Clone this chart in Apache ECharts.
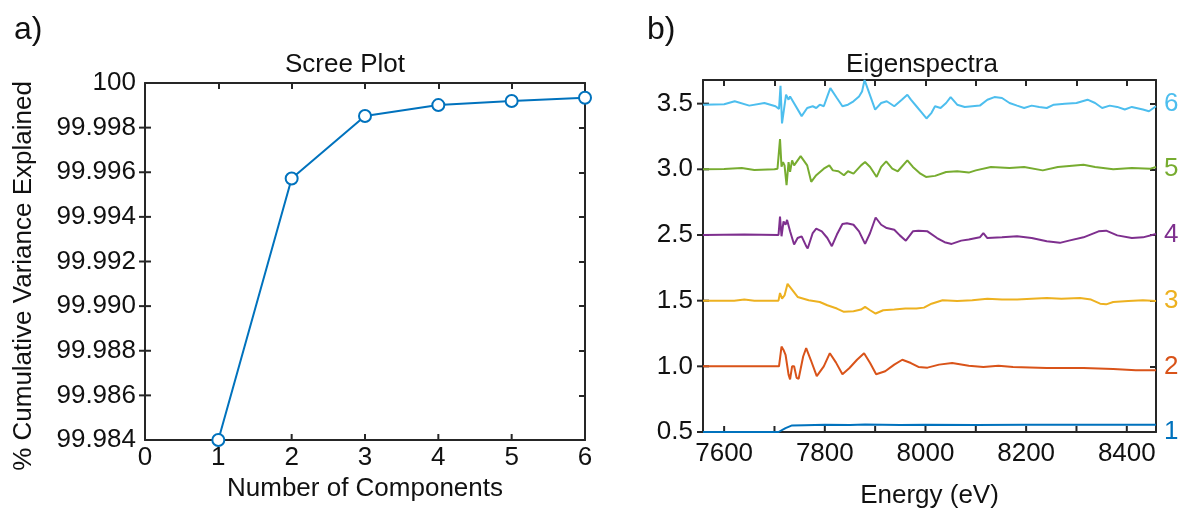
<!DOCTYPE html>
<html><head><meta charset="utf-8">
<script src="https://cdn.jsdelivr.net/npm/echarts@6/dist/echarts.min.js"></script>
<style>html,body{margin:0;padding:0;background:#fff}#c{width:1183px;height:514px}</style>
</head><body><div id="c"></div>
<script>
// ---- Scree plot data ----
const components = [1, 2, 3, 4, 5, 6];
const cumVariance = [99.984, 99.99572, 99.99852, 99.99901, 99.99919, 99.99934];
const screeXTicks = [1, 2, 3, 4, 5];
const screeYTicks = [99.986, 99.988, 99.99, 99.992, 99.994, 99.996, 99.998];

// ---- Eigenspectra axis labels ----
const eigenLeftLabels = ['0.5', '1.0', '1.5', '2.5', '3.0', '3.5'];
const eigenRightLabels = ['1', '2', '3', '4', '5', '6'];
const eigenColors = ['#0072BD', '#D95319', '#EDB120', '#7E2F8E', '#77AC30', '#4DBEEE'];
const eigenLevels = [0, 0.5, 1.0, 1.5, 2.0, 2.5];
const energyTicks = [7600, 7700, 7800, 7900, 8000, 8100, 8200, 8300, 8400];
const energyLabels = [7600, 7800, 8000, 8200, 8400];

// ---- Eigenspectra: [energy (eV), deviation from the component's baseline] ----
const spec1 = [[7558,0],[7708,0],[7722,0.03],[7735,0.05],[7760,0.052],[7800,0.055],[7850,0.053],[7880,0.057],[7950,0.053],[8000,0.055],[8100,0.054],[8200,0.055],[8300,0.055],[8458,0.055]];
const spec2 = [[7558,0],[7709,0],[7714,0.15],[7718,0.125],[7722,0.088],[7728,-0.063],[7731,-0.1],[7735,0],[7739,0],[7744,-0.088],[7748,-0.095],[7757,0.075],[7763,0.138],[7772,0.05],[7784,-0.075],[7798,0],[7810,0.1],[7822,0.03],[7835,-0.06],[7849,-0.013],[7864,0.05],[7878,0.1],[7890,0.025],[7902,-0.06],[7920,-0.038],[7938,0.013],[7954,0.05],[7971,0.025],[7986,-0.005],[8004,-0.01],[8027,0.013],[8053,0.025],[8086,0.005],[8115,-0.005],[8145,0.005],[8174,-0.005],[8241,-0.013],[8314,-0.013],[8373,-0.02],[8418,-0.03],[8458,-0.03]];
const spec3 = [[7558,0],[7620,0],[7640,0.008],[7660,0],[7708,0],[7711,0.058],[7715,0.015],[7720,0.04],[7726,0.128],[7731,0.103],[7746,0.028],[7768,0.003],[7790,-0.01],[7805,-0.035],[7824,-0.06],[7838,-0.085],[7857,-0.08],[7872,-0.068],[7880,-0.048],[7890,-0.073],[7901,-0.098],[7916,-0.073],[7938,-0.068],[7960,-0.06],[7982,-0.06],[7997,-0.053],[8012,-0.023],[8034,0.003],[8063,-0.003],[8093,0.003],[8123,0.015],[8152,0.008],[8182,0.008],[8211,0.015],[8241,0.02],[8270,0.015],[8307,0.02],[8329,0.008],[8347,-0.023],[8359,-0.028],[8373,-0.01],[8403,-0.003],[8432,0.003],[8458,-0.003]];
const spec4 = [[7558,0],[7640,0.003],[7708,0],[7711,0.14],[7714,-0.01],[7718,0.103],[7722,0.078],[7725,0.115],[7731,0.028],[7739,-0.073],[7746,-0.023],[7754,-0.01],[7763,-0.085],[7766,-0.103],[7776,0.015],[7783,0.048],[7794,0.028],[7805,-0.023],[7814,-0.085],[7824,0.003],[7835,0.083],[7844,0.09],[7857,0.078],[7868,0.028],[7880,-0.068],[7890,0.015],[7901,0.133],[7912,0.078],[7923,0.053],[7938,0.04],[7949,-0.003],[7961,-0.043],[7975,0.028],[7986,0.033],[8004,0.028],[8023,-0.023],[8038,-0.055],[8052,-0.068],[8071,-0.043],[8086,-0.035],[8108,-0.018],[8115,0.015],[8123,-0.023],[8152,-0.018],[8182,-0.01],[8211,-0.023],[8241,-0.048],[8267,-0.06],[8285,-0.043],[8314,-0.018],[8344,0.028],[8359,0.033],[8381,-0.003],[8410,-0.023],[8432,-0.018],[8458,0.008]];
const spec5 = [[7558,0],[7600,0.003],[7635,0.01],[7660,-0.005],[7700,0],[7706,0.005],[7711,0.23],[7714,0.02],[7717,0.055],[7720,0.03],[7724,-0.12],[7728,0.055],[7731,-0.02],[7735,0.068],[7739,0.03],[7752,0.1],[7765,0.03],[7773,-0.095],[7783,-0.045],[7798,0.005],[7809,0.03],[7816,-0.008],[7827,-0.015],[7838,-0.045],[7846,-0.015],[7857,-0.033],[7872,0.03],[7880,0.055],[7890,0.018],[7903,-0.058],[7912,0.018],[7922,0.06],[7934,0.005],[7945,-0.015],[7964,0.068],[7975,0.018],[7990,-0.033],[8001,-0.058],[8019,-0.05],[8041,-0.02],[8063,-0.015],[8086,-0.025],[8100,-0.008],[8130,0.018],[8167,0.01],[8196,0.018],[8233,-0.008],[8263,0.018],[8314,0.035],[8337,0.018],[8373,0],[8410,0.01],[8447,0.005],[8458,0.018]];
const spec6 = [[7558,-0.008],[7600,-0.005],[7621,0.018],[7650,-0.015],[7680,0.005],[7702,-0.02],[7709,-0.04],[7712,0.135],[7715,-0.15],[7723,0.068],[7728,0.03],[7731,0.055],[7754,-0.095],[7765,-0.033],[7776,-0.02],[7783,-0.033],[7790,-0.008],[7798,-0.02],[7805,0.055],[7811,0.118],[7824,0.043],[7835,-0.02],[7846,-0.008],[7857,0.018],[7868,0.055],[7874,0.093],[7879,0.18],[7886,0.105],[7900,-0.045],[7912,0.005],[7923,0.018],[7938,-0.02],[7953,0.03],[7964,0.068],[7971,0.03],[7982,-0.02],[7993,-0.07],[8002,-0.113],[8012,-0.07],[8019,-0.02],[8030,-0.033],[8041,0.005],[8050,0.05],[8063,-0.008],[8078,-0.025],[8093,-0.02],[8108,-0.015],[8123,0.03],[8137,0.05],[8152,0.043],[8167,0.005],[8182,-0.015],[8196,-0.033],[8211,-0.015],[8226,-0.025],[8241,-0.033],[8255,-0.008],[8277,0],[8300,0.005],[8322,0.03],[8337,0.005],[8351,-0.033],[8366,-0.015],[8381,-0.025],[8396,-0.045],[8410,-0.025],[8432,-0.045],[8444,-0.058],[8458,-0.02]];
const spectra = [spec1, spec2, spec3, spec4, spec5, spec6];

const FONT = "'Liberation Sans', Arial, sans-serif";
const AX = '#262626';
const TXT = '#111';
const TICK_LEN = 6;

const SCREE_X = [0, 6], SCREE_Y = [99.984, 100];
const EIG_X = [7558, 8458], EIG_Y = [0, 2.68];

const chart = echarts.init(document.getElementById('c'), null, {renderer: 'canvas'});

function tickStyle(extra) {
  return Object.assign({show: true, inside: true, length: TICK_LEN, lineStyle: {color: AX, width: 2}}, extra || {});
}
function frameAxis(extra) {
  return Object.assign({
    axisLine: {show: true, onZero: false, lineStyle: {color: AX, width: 2}},
    axisTick: tickStyle(),
    splitLine: {show: false},
    axisLabel: {show: false}
  }, extra);
}
const noTick = {show: false};

// tick marks on the left / bottom edges, placed through the axes' own scales
function tickSeries(xi, yi, data, dir) {
  return {
    type: 'custom', coordinateSystem: 'cartesian2d', xAxisIndex: xi, yAxisIndex: yi,
    silent: true, clip: false, z: 1, data: data,
    renderItem: (params, api) => {
      const p = api.coord([api.value(0), api.value(1)]);
      const shape = dir === 'h'
        ? {x1: p[0] - TICK_LEN, y1: p[1], x2: p[0] + TICK_LEN, y2: p[1]}
        : {x1: p[0], y1: p[1], x2: p[0], y2: p[1] - TICK_LEN};
      return {type: 'line', shape: shape, style: {stroke: AX, lineWidth: 2}};
    }
  };
}

const richRight = {};
eigenColors.forEach((c, i) => { richRight['s' + i] = {color: c, fontSize: 26, fontFamily: FONT}; });

const option = {
  animation: false,
  backgroundColor: '#fff',
  textStyle: {fontFamily: FONT},
  grid: [
    {left: 145, top: 83, width: 440, height: 357},
    {left: 703, top: 80, width: 453, height: 355}
  ],
  xAxis: [
    frameAxis({gridIndex: 0, type: 'value', position: 'bottom', min: SCREE_X[0], max: SCREE_X[1], interval: 1,
      name: 'Number of Components', nameLocation: 'middle', nameGap: 27,
      nameTextStyle: {fontSize: 26, color: TXT, fontFamily: FONT},
      axisTick: noTick,
      axisLabel: {show: true, fontSize: 26, color: TXT, margin: 5, fontFamily: FONT}}),
    frameAxis({gridIndex: 0, type: 'value', position: 'top', min: SCREE_X[0], max: SCREE_X[1], interval: 1}),
    frameAxis({gridIndex: 1, type: 'value', position: 'bottom', min: EIG_X[0], max: EIG_X[1],
      name: 'Energy (eV)', nameLocation: 'middle', nameGap: 51,
      nameTextStyle: {fontSize: 26, color: TXT, fontFamily: FONT},
      axisTick: noTick,
      axisLabel: {show: true, fontSize: 26, color: TXT, margin: 9, fontFamily: FONT, customValues: energyLabels,
        formatter: v => String(Math.round(v))}}),
    frameAxis({gridIndex: 1, type: 'value', position: 'top', min: EIG_X[0], max: EIG_X[1],
      axisTick: tickStyle({customValues: energyTicks})})
  ],
  yAxis: [
    frameAxis({gridIndex: 0, type: 'value', position: 'left', min: SCREE_Y[0], max: SCREE_Y[1], interval: 0.002,
      axisTick: noTick,
      axisLabel: {show: true, fontSize: 26, color: TXT, margin: 9, fontFamily: FONT,
        formatter: v => Math.abs(v - 100) < 1e-9 ? '100' : v.toFixed(3)}}),
    frameAxis({gridIndex: 0, type: 'value', position: 'right', min: SCREE_Y[0], max: SCREE_Y[1], interval: 0.002}),
    frameAxis({gridIndex: 1, type: 'value', position: 'left', min: EIG_Y[0], max: EIG_Y[1], interval: 0.5,
      axisTick: noTick,
      axisLabel: {show: true, fontSize: 26, color: TXT, margin: 10, fontFamily: FONT,
        formatter: v => eigenLeftLabels[Math.round(v / 0.5)] || ''}}),
    frameAxis({gridIndex: 1, type: 'value', position: 'right', min: EIG_Y[0], max: EIG_Y[1], interval: 0.5,
      axisLabel: {show: true, margin: 8, rich: richRight,
        formatter: v => { const i = Math.round(v / 0.5); return eigenRightLabels[i] ? '{s' + i + '|' + eigenRightLabels[i] + '}' : ''; }}})
  ],
  title: [
    {text: 'Scree Plot', left: 340, top: 47, textAlign: 'center',
      textStyle: {fontSize: 26, fontWeight: 'normal', color: TXT, fontFamily: FONT}},
    {text: 'Eigenspectra', left: 917, top: 47, textAlign: 'center',
      textStyle: {fontSize: 26, fontWeight: 'normal', color: TXT, fontFamily: FONT}}
  ],
  graphic: [
    {type: 'text', left: 14, top: 14, style: {text: 'a)', fontSize: 32, fill: TXT, fontFamily: FONT}},
    {type: 'text', left: 647, top: 14, style: {text: 'b)', fontSize: 32, fill: TXT, fontFamily: FONT}},
    {type: 'text', x: 24, y: 276, rotation: Math.PI / 2,
      style: {text: '% Cumulative Variance Explained', fontSize: 26, fill: TXT, fontFamily: FONT,
        align: 'center', verticalAlign: 'middle'}}
  ],
  series: [
    tickSeries(0, 0, screeYTicks.map(v => [SCREE_X[0], v]), 'h'),
    tickSeries(0, 0, screeXTicks.map(v => [v, SCREE_Y[0]]), 'v'),
    tickSeries(2, 2, eigenLevels.map(v => [EIG_X[0], v]), 'h'),
    tickSeries(2, 2, energyTicks.map(v => [v, EIG_Y[0]]), 'v'),
    {type: 'line', xAxisIndex: 0, yAxisIndex: 0, clip: false, z: 5,
      data: components.map((c, i) => [c, cumVariance[i]]),
      symbol: 'circle', symbolSize: 12, showSymbol: true,
      lineStyle: {color: '#0072BD', width: 2},
      itemStyle: {color: '#fff', borderColor: '#0072BD', borderWidth: 2}}
  ].concat(spectra.map((s, k) => ({
    type: 'line', xAxisIndex: 2, yAxisIndex: 2, clip: false, z: 5,
    symbol: 'none', smooth: false,
    lineStyle: {color: eigenColors[k], width: 2},
    data: s.map(p => [p[0], eigenLevels[k] + p[1]])
  })))
};
chart.setOption(option);
</script>
</body></html>
